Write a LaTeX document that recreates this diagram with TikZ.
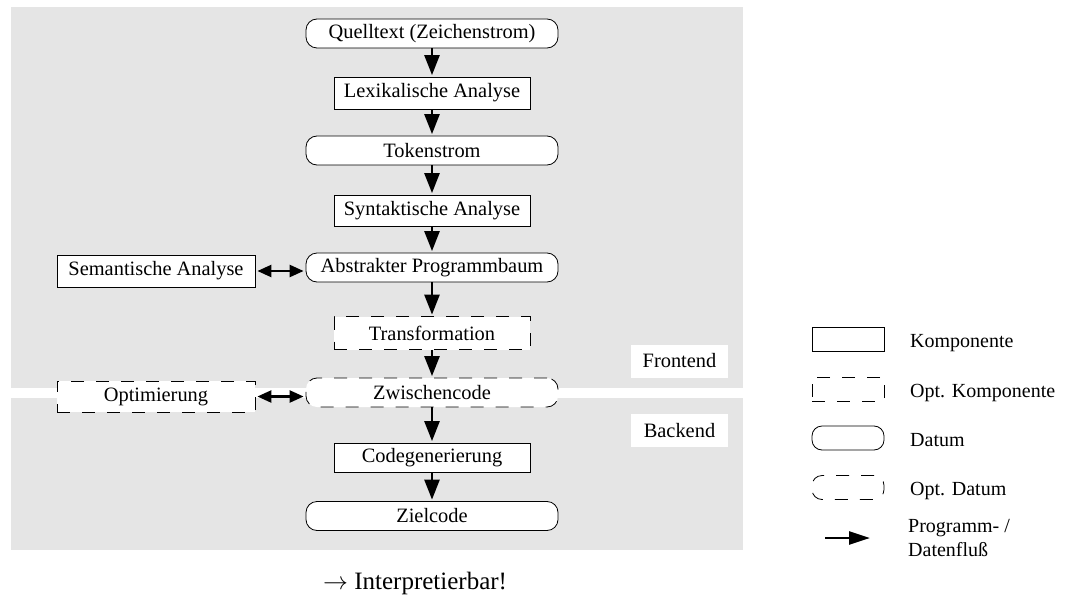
\documentclass[tikz,border=0pt]{standalone}
\usepackage{fontspec}
\setmainfont{Liberation Serif}
\usetikzlibrary{arrows.meta}
\definecolor{panel}{gray}{0.898}

\begin{document}
\begin{tikzpicture}[x=1pt,y=-1pt,
  lbl/.style={font=\fontsize{20.4}{24}\selectfont},
  comp/.style={draw, line width=0.8pt, fill=white, rectangle, inner sep=0pt,
    minimum width=196pt, minimum height=31pt, lbl},
  optcomp/.style={comp, dash pattern=on 13pt off 12pt},
  datum/.style={draw, line width=0.8pt, fill=white, rectangle, rounded corners=11pt,
    inner sep=0pt, minimum width=252pt, minimum height=29pt, lbl},
  optdatum/.style={datum, dash pattern=on 13pt off 12pt},
  phase/.style={fill=white, inner sep=0pt, minimum width=97pt, minimum height=33pt, lbl},
  legtext/.style={anchor=west, inner sep=0pt, font=\fontsize{20}{24}\selectfont, align=left},
  flow/.style={line width=2.6pt, -{Triangle[length=20pt,width=15pt]}, shorten >=1.5pt},
  both/.style={line width=2.4pt, {Triangle[length=14pt,width=12pt]}-{Triangle[length=14pt,width=12pt]},
    shorten <=2pt, shorten >=2pt}
]
\useasboundingbox (0,0) rectangle (1067,604);

% frontend and backend panels
\fill[panel] (11,7) rectangle (743,388);
\fill[panel] (11,398) rectangle (743,550);

% main pipeline
\node[datum] (src) at (432,33.5) {Quelltext (Zeichenstrom)};
\node[comp, minimum height=32pt] (lex) at (432,93) {Lexikalische Analyse};
\node[datum] (tok) at (432,150.5) {Tokenstrom};
\node[comp] (syn) at (432,210.5) {Syntaktische Analyse};
\node[datum] (ast) at (432,267.5) {Abstrakter Programmbaum};
\node[optcomp, minimum height=33pt] (trf) at (432,333) {Transformation};
\node[optdatum] (ir) at (432,392.5) {Zwischencode};
\node[comp, minimum height=29pt] (cg) at (432,457.5) {Codegenerierung};
\node[datum] (tgt) at (432,516) {Zielcode};

% side components
\node[comp, minimum width=198pt, minimum height=32pt] (sem) at (156,271) {Semantische Analyse};
\node[optcomp, minimum width=198pt] (opt) at (156,396.5) {Optimierung};

% phase labels
\node[phase] (fe) at (679.5,361) {Frontend};
\node[phase] (be) at (679.5,430.5) {Backend};

% data flow
\draw[flow] (src) -- (lex);
\draw[flow] (lex) -- (tok);
\draw[flow] (tok) -- (syn);
\draw[flow] (syn) -- (ast);
\draw[flow] (ast) -- (trf);
\draw[flow] (trf) -- (ir);
\draw[flow] (ir) -- (cg);
\draw[flow] (cg) -- (tgt);
\draw[both] (sem.east) -- (sem.east -| ast.west);
\draw[both] (opt.east) -- (opt.east -| ir.west);

% legend
\node[comp, minimum width=72pt, minimum height=24pt] (lc) at (848,339.5) {};
\node[optcomp, minimum width=72pt, minimum height=24pt] (loc) at (848,389) {};
\node[datum, minimum width=72pt, minimum height=24pt, rounded corners=10pt] (ld) at (848,438) {};
\node[optdatum, minimum width=72pt, minimum height=24pt, rounded corners=10pt] (lod) at (848,487.5) {};
\coordinate (la) at (825,538);
\coordinate (lb) at (870,538);
\draw[line width=2.6pt, -{Triangle[length=21pt,width=13pt]}] (la) -- (lb);

\node[legtext] (tc) at (910,343) {Komponente};
\node[legtext] (toc) at (910,393) {Opt. Komponente};
\node[legtext] (td) at (910,440) {Datum};
\node[legtext] (tod) at (910,491) {Opt. Datum};
\node[legtext] (tf) at (908,538) {Programm- /\\Datenfluß};

% footnote
\node[anchor=west, inner sep=0pt, font=\fontsize{25}{29}\selectfont] (interp) at (323,583)
  {$\rightarrow$ Interpretierbar!};
\end{tikzpicture}
\end{document}
